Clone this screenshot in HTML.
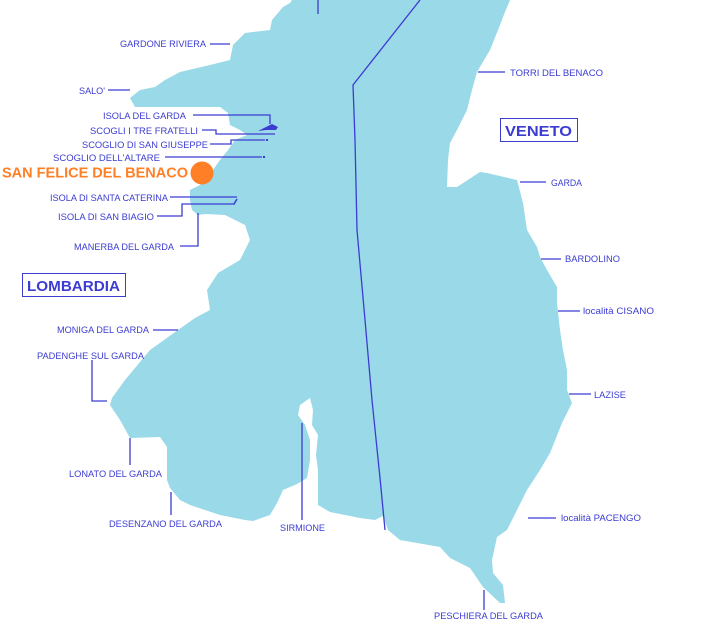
<!DOCTYPE html>
<html><head><meta charset="utf-8"><style>
html,body{margin:0;padding:0;background:#fff;}
svg{display:block}
text{font-family:"Liberation Sans",Arial,sans-serif;fill:#3c3cd2;font-size:9.5px;}
.l{stroke:#3c3cd2;stroke-width:1.3;fill:none}
</style></head><body>
<svg width="705" height="625" viewBox="0 0 705 625" xmlns="http://www.w3.org/2000/svg">
<polygon fill="#9ad9e8" points="
290,3 292,0 333,0 510,0 505,12 498,30 490,50 477,72 472,90 467,110 457,130 450,143 448,160 447,187 457,187 480,172 487,173 517,180 523,203 527,230 537,247 540,257 547,270 557,287 557,303 560,330 563,350 567,370 567,390 572,403 562,423 550,453 540,470 527,490 507,530 497,537 492,560 493,573 503,585 505,603 500,603 483,587 470,568 450,558 440,547 400,540 388,530 383,516 375,520 360,518 330,512 318,505 318,470 316,455 318,435 312,425 313,410 310,398 300,405 298,415 305,425 310,440 310,460 307,478 297,484 283,490 277,503 270,515 253,521 245,520 220,515 190,505 180,500 170,488 167,480 167,447 160,437 130,438 120,420 110,405 112,398 125,380 150,350 178,330 195,318 210,310 207,290 218,273 240,260 250,240 245,225 225,215 205,214 198,215 192,210 190,200 190,190 200,185 213,170 220,160 228,150 235,140 247,135 240,130 230,125 228,113 220,107 135,107 130,98 140,90 155,87 165,80 180,72 210,65 230,60 233,45 245,33 270,30 272,20 283,7"/>
<!-- island -->
<path d="M258,131 L266,127 L272,124 L278,127 L276,130 L266,130 Z" fill="#3c3cd2"/>
<rect x="266" y="139" width="2" height="2" fill="#3c3cd2"/>
<rect x="263" y="156" width="2" height="2" fill="#3c3cd2"/>
<path d="M234,204 L237,199" stroke="#3c3cd2" stroke-width="1.5"/>
<!-- border -->
<polyline class="l" points="420,0 353,85 355,140 357,230 365,320 372,400 380,478 385,530"/>
<!-- leader lines -->
<polyline class="l" points="318,0 318,14"/>
<polyline class="l" points="210,44 230,44"/>
<polyline class="l" points="108,90 130,90"/>
<polyline class="l" points="193,115 270,115 270,124"/>
<polyline class="l" points="202,130 216,130 216,134 275,134"/>
<polyline class="l" points="210,144 231,144 231,140 265,140"/>
<polyline class="l" points="165,157 262,157"/>
<polyline class="l" points="170,197 237,197"/>
<polyline class="l" points="157,216 182,216 182,204 235,204"/>
<polyline class="l" points="180,246 198,246 198,213"/>
<polyline class="l" points="153,330 178,330"/>
<polyline class="l" points="92,360 92,401 107,401"/>
<polyline class="l" points="130,438 130,465"/>
<polyline class="l" points="171,492 171,515"/>
<polyline class="l" points="302,423 302,520"/>
<polyline class="l" points="478,72 505,72"/>
<polyline class="l" points="520,182 546,182"/>
<polyline class="l" points="541,259 561,259"/>
<polyline class="l" points="558,311 580,311"/>
<polyline class="l" points="569,394 591,394"/>
<polyline class="l" points="528,518 556,518"/>
<polyline class="l" points="484,590 484,610"/>
<!-- boxes -->
<rect x="22.5" y="273.5" width="103" height="23" fill="none" stroke="#3c3cd2"/>
<text x="27" y="291" style="font-size:15px;font-weight:bold" textLength="93" lengthAdjust="spacingAndGlyphs">LOMBARDIA</text>
<rect x="500.5" y="118.5" width="77" height="23" fill="none" stroke="#3c3cd2"/>
<text x="505" y="136" style="font-size:15px;font-weight:bold" textLength="67" lengthAdjust="spacingAndGlyphs">VENETO</text>
<!-- San Felice -->
<circle cx="202" cy="173" r="11.5" fill="#ff7f27"/>
<text x="2" y="177.5" style="font-size:15px;font-weight:bold;fill:#ff7f27" textLength="186" lengthAdjust="spacingAndGlyphs">SAN FELICE DEL BENACO</text>
<!-- labels -->
<text x="120" y="47" textLength="86" lengthAdjust="spacingAndGlyphs">GARDONE RIVIERA</text>
<text x="79" y="94" textLength="26" lengthAdjust="spacingAndGlyphs">SALO'</text>
<text x="103" y="119" textLength="83" lengthAdjust="spacingAndGlyphs">ISOLA DEL GARDA</text>
<text x="90" y="134" textLength="108" lengthAdjust="spacingAndGlyphs">SCOGLI I TRE FRATELLI</text>
<text x="82" y="148" textLength="126" lengthAdjust="spacingAndGlyphs">SCOGLIO DI SAN GIUSEPPE</text>
<text x="53" y="161" textLength="107" lengthAdjust="spacingAndGlyphs">SCOGLIO DELL'ALTARE</text>
<text x="50" y="201" textLength="118" lengthAdjust="spacingAndGlyphs">ISOLA DI SANTA CATERINA</text>
<text x="58" y="220" textLength="96" lengthAdjust="spacingAndGlyphs">ISOLA DI SAN BIAGIO</text>
<text x="74" y="250" textLength="100" lengthAdjust="spacingAndGlyphs">MANERBA DEL GARDA</text>
<text x="57" y="333" textLength="92" lengthAdjust="spacingAndGlyphs">MONIGA DEL GARDA</text>
<text x="37" y="359" textLength="107" lengthAdjust="spacingAndGlyphs">PADENGHE SUL GARDA</text>
<text x="69" y="477" textLength="93" lengthAdjust="spacingAndGlyphs">LONATO DEL GARDA</text>
<text x="109" y="527" textLength="113" lengthAdjust="spacingAndGlyphs">DESENZANO DEL GARDA</text>
<text x="280" y="531" textLength="45" lengthAdjust="spacingAndGlyphs">SIRMIONE</text>
<text x="510" y="76" textLength="93" lengthAdjust="spacingAndGlyphs">TORRI DEL BENACO</text>
<text x="551" y="186" textLength="31" lengthAdjust="spacingAndGlyphs">GARDA</text>
<text x="565" y="262" textLength="55" lengthAdjust="spacingAndGlyphs">BARDOLINO</text>
<text x="583" y="314" textLength="71" lengthAdjust="spacingAndGlyphs">località CISANO</text>
<text x="594" y="398" textLength="32" lengthAdjust="spacingAndGlyphs">LAZISE</text>
<text x="561" y="521" textLength="80" lengthAdjust="spacingAndGlyphs">località PACENGO</text>
<text x="434" y="619" textLength="109" lengthAdjust="spacingAndGlyphs">PESCHIERA DEL GARDA</text>
</svg>
</body></html>
